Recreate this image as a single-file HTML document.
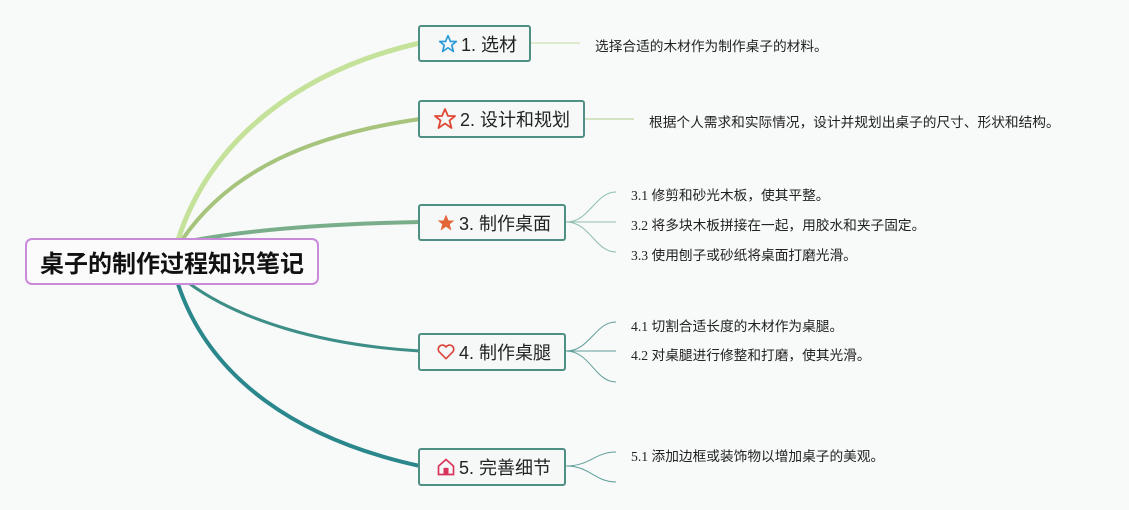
<!DOCTYPE html>
<html><head><meta charset="utf-8"><style>
body{margin:0;width:1129px;height:510px;background:#f8f9f9;position:relative;overflow:hidden;font-family:"Liberation Sans","Noto Sans CJK SC",sans-serif;}
.n{position:absolute;border:2px solid #4f8f84;border-radius:3px;background:#f6f8f8;box-sizing:border-box;font-size:18px;color:#222;display:flex;align-items:center;padding-left:16px;white-space:nowrap;}
.n svg{margin-right:3px}
.t{position:absolute;font-size:13.7px;color:#222;white-space:nowrap;font-family:"Liberation Serif","Noto Sans CJK SC",serif;}
.root{position:absolute;left:25px;top:238px;width:294px;height:47px;border:2px solid #c98ad9;border-radius:7px;background:#fbfbfb;box-sizing:border-box;font-size:24px;font-weight:bold;display:flex;align-items:center;justify-content:center;color:#111;}
</style></head><body>
<svg width="1129" height="510" style="position:absolute;left:0;top:0" fill="none">
<path d="M178 240 C210 140 300 70 420 43" stroke="#c5e29a" stroke-width="5"/>
<path d="M182 240 C230 170 310 135 420 119" stroke="#a6c47c" stroke-width="4"/>
<path d="M195 240 C250 230 320 224 420 222" stroke="#7aae8a" stroke-width="4"/>
<path d="M190 284 C240 320 320 345 420 351" stroke="#3e8e88" stroke-width="3"/>
<path d="M178 284 C210 380 300 440 420 466" stroke="#2a878c" stroke-width="4"/>
<path d="M530 43 L580 43" stroke="#d4e8bf" stroke-width="1.5"/>
<path d="M584 119 L634 119" stroke="#c8deb0" stroke-width="1.5"/>
<g stroke="#8fbfb0" stroke-width="1">
<path d="M566 222 C590 222 595 192 616 192"/><path d="M566 222 L616 222"/><path d="M566 222 C590 222 595 252 616 252"/>
</g>
<g stroke="#5f9f9a" stroke-width="1">
<path d="M566 351 C590 351 595 322 616 322"/><path d="M566 351 L616 351"/><path d="M566 351 C590 351 595 382 616 382"/>
<path d="M566 466 C590 466 595 452 616 452"/><path d="M566 466 C590 466 595 482 616 482"/>
</g>
</svg>
<div class="n" style="left:418px;top:25px;width:113px;height:37px;padding-left:18px"><svg width="20" height="20" viewBox="0 0 24 24"><path d="M12 2l3 7h7l-5.5 4.5 2 7.5-6.5-4.5-6.5 4.5 2-7.5L2 9h7z" stroke="#2b9bd8" stroke-width="2" fill="none" stroke-linejoin="round"/></svg>1. 选材</div>
<div class="n" style="left:418px;top:100px;width:167px;height:38px;padding-left:13px"><svg width="24" height="24" viewBox="0 0 24 24"><path d="M12 2l3 7h7l-5.5 4.5 2 7.5-6.5-4.5-6.5 4.5 2-7.5L2 9h7z" stroke="#e04a35" stroke-width="1.8" fill="none" stroke-linejoin="round"/></svg>2. 设计和规划</div>
<div class="n" style="left:418px;top:204px;width:148px;height:37px;"><svg width="20" height="20" viewBox="0 0 24 24"><path d="M12 2l3 7h7l-5.5 4.5 2 7.5-6.5-4.5-6.5 4.5 2-7.5L2 9h7z" fill="#e2663a"/></svg>3. 制作桌面</div>
<div class="n" style="left:418px;top:333px;width:148px;height:38px;"><svg width="20" height="20" viewBox="0 0 24 24"><path d="M12 20 L3.5 11.5 A4.8 4.8 0 0 1 12 6 A4.8 4.8 0 0 1 20.5 11.5 Z" stroke="#d9453a" stroke-width="2" fill="none" stroke-linejoin="round"/></svg>4. 制作桌腿</div>
<div class="n" style="left:418px;top:448px;width:148px;height:38px;"><svg width="20" height="20" viewBox="0 0 24 24"><path d="M3 21V11L12 3l9 8v10z" stroke="#d8335a" stroke-width="2" fill="none"/><rect x="9" y="13" width="6" height="8" fill="#d8335a"/></svg>5. 完善细节</div>
<div class="root">桌子的制作过程知识笔记</div>
<div class="t" style="left:595px;top:35px">选择合适的木材作为制作桌子的材料。</div>
<div class="t" style="left:649px;top:111px">根据个人需求和实际情况，设计并规划出桌子的尺寸、形状和结构。</div>
<div class="t" style="left:631px;top:184px">3.1 修剪和砂光木板，使其平整。</div>
<div class="t" style="left:631px;top:214px">3.2 将多块木板拼接在一起，用胶水和夹子固定。</div>
<div class="t" style="left:631px;top:244px">3.3 使用刨子或砂纸将桌面打磨光滑。</div>
<div class="t" style="left:631px;top:315px">4.1 切割合适长度的木材作为桌腿。</div>
<div class="t" style="left:631px;top:344px">4.2 对桌腿进行修整和打磨，使其光滑。</div>
<div class="t" style="left:631px;top:445px">5.1 添加边框或装饰物以增加桌子的美观。</div>
</body></html>
